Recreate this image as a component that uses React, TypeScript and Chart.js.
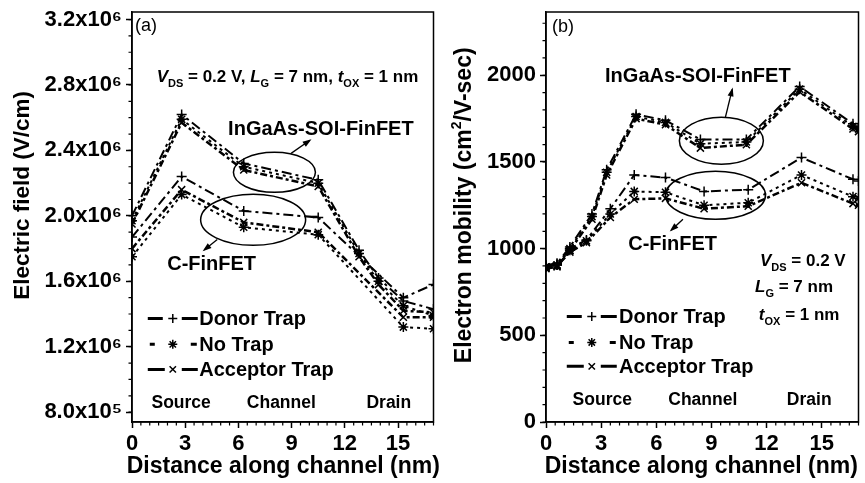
import React, { useEffect, useRef } from "react";
import { Chart, registerables } from "chart.js";

Chart.register(...registerables);

const FONT = "Arial, 'Liberation Sans', Helvetica, sans-serif";

// ---------------- Panel (a): electric field (V/cm) ----------------
const distA_InGaAs = [0, 2.8, 6.3, 10.5, 12.8, 13.9, 15.3, 17];
const fieldA_InGaAs_Donor = [2.0e6, 2.62e6, 2.32e6, 2.22e6, 1.79e6, 1.62e6, 1.48e6, 1.43e6];
const fieldA_InGaAs_NoTrap = [1.97e6, 2.59e6, 2.3e6, 2.2e6, 1.77e6, 1.6e6, 1.45e6, 1.39e6];
const fieldA_InGaAs_Acceptor = [1.95e6, 2.57e6, 2.28e6, 2.18e6, 1.75e6, 1.58e6, 1.42e6, 1.41e6];
const distA_CFin = [0, 2.8, 6.3, 10.5, 15.3, 17];
const fieldA_CFin_Donor = [1.87e6, 2.24e6, 2.03e6, 1.99e6, 1.5e6, 1.58e6];
const fieldA_CFin_NoTrap = [1.75e6, 2.13e6, 1.93e6, 1.885e6, 1.32e6, 1.31e6];
const fieldA_CFin_Acceptor = [1.8e6, 2.16e6, 1.96e6, 1.9e6, 1.38e6, 1.38e6];

// ---------------- Panel (b): electron mobility (cm2/V-sec) ----------------
const distB_InGaAs = [0, 0.6, 1.3, 2.5, 3.3, 4.9, 6.5, 8.4, 10.9, 13.8, 16.7, 17];
const mobB_InGaAs_Donor = [905, 915, 1010, 1200, 1455, 1775, 1740, 1630, 1630, 1935, 1720, 1700];
const mobB_InGaAs_NoTrap = [895, 905, 1000, 1185, 1440, 1762, 1728, 1605, 1615, 1920, 1705, 1690];
const mobB_InGaAs_Acceptor = [885, 895, 990, 1170, 1425, 1750, 1715, 1580, 1600, 1905, 1690, 1675];
const distB_CFin = [0, 0.6, 1.3, 2.2, 3.5, 4.8, 6.5, 8.6, 11.0, 13.9, 16.7, 17];
const mobB_CFin_Donor = [900, 910, 1000, 1050, 1230, 1425, 1410, 1330, 1340, 1525, 1400, 1390];
const mobB_CFin_NoTrap = [895, 905, 990, 1045, 1200, 1330, 1325, 1250, 1265, 1425, 1300, 1290];
const mobB_CFin_Acceptor = [890, 900, 980, 1035, 1180, 1285, 1290, 1230, 1245, 1380, 1260, 1250];

// ---------------- Ticks / labels ----------------
const xTicks = [0, 3, 6, 9, 12, 15];
const yTicksA = [8e5, 1.2e6, 1.6e6, 2.0e6, 2.4e6, 2.8e6, 3.2e6];
const yTicksB = [0, 500, 1000, 1500, 2000];
const trapNames = ["Donor Trap", "No Trap", "Acceptor Trap"];
const regionNames = ["Source", "Channel", "Drain"];
const xTitle = "Distance along channel (nm)";

const trapStyles = [
  { dash: [10, 4, 3, 4], point: "cross", width: 2 },
  { dash: [3, 4], point: "star", width: 2 },
  { dash: [7, 3, 3, 3], point: "crossRot", width: 2.5 },
];

const SUP: Record<string, string> = {
  "0": "⁰", "1": "¹", "2": "²", "3": "³", "4": "⁴",
  "5": "⁵", "6": "⁶", "7": "⁷", "8": "⁸", "9": "⁹", "-": "⁻",
};
function sciLabel(v: number): string {
  const e = Math.floor(Math.log10(v) + 1e-9);
  const m = v / Math.pow(10, e);
  return m.toFixed(1) + "x10" + String(e).split("").map((c) => SUP[c]).join("");
}

type Seg = { t: string; sub?: boolean; sup?: boolean; it?: boolean };
type TextAnn = { x: number; y: number; parts: Seg[]; size: number; align: "left" | "center"; weight: string; base: "middle" | "alphabetic" };
type EllAnn = { x: number; y: number; rx: number; ry: number };
type LineAnn = { x1: number; y1: number; x2: number; y2: number; head: boolean };
type Annot = {
  texts: TextAnn[];
  ellipses: EllAnn[];
  lines: LineAnn[];
  legend: { x: number; tx: number; ys: number[]; size: number };
  regionsY: number;
  regionsX: number[];
  yTitle: { parts: Seg[]; px: number; y: number; size: number };
  xTitle: { dx: number; py: number; size: number };
};

const paramsLine: Seg[] = [
  { t: "V", it: true }, { t: "DS", sub: true }, { t: " = 0.2 V, " },
  { t: "L", it: true }, { t: "G", sub: true }, { t: " = 7 nm, " },
  { t: "t", it: true }, { t: "OX", sub: true }, { t: " = 1 nm" },
];

const annotA: Annot = {
  texts: [
    { x: 0.17, y: 3.159e6, parts: [{ t: "(a)" }], size: 18, align: "left", weight: "normal", base: "middle" },
    { x: 1.39, y: 2.8165e6, parts: paramsLine, size: 17, align: "left", weight: "bold", base: "alphabetic" },
    { x: 10.65, y: 2.529e6, parts: [{ t: "InGaAs-SOI-FinFET" }], size: 20, align: "center", weight: "bold", base: "middle" },
    { x: 4.49, y: 1.7034e6, parts: [{ t: "C-FinFET" }], size: 20, align: "center", weight: "bold", base: "middle" },
  ],
  ellipses: [
    { x: 8.03, y: 2.266e6, rx: 41, ry: 20 },
    { x: 6.83, y: 1.976e6, rx: 52.5, ry: 25.5 },
  ],
  lines: [
    { x1: 8.97, y1: 2.382e6, x2: 10.03, y2: 2.462e6, head: true },
    { x1: 4.81, y1: 1.856e6, x2: 4.07, y2: 1.791e6, head: true },
    { x1: 9.75, y1: 1.997e6, x2: 10.48, y2: 1.997e6, head: false },
  ],
  legend: { x: 0.89, tx: 3.79, ys: [1.373e6, 1.2145e6, 1.0615e6], size: 20 },
  regionsY: 0.8533e6,
  regionsX: [2.77, 8.42, 14.48],
  yTitle: { parts: [{ t: "Electric field (V/cm)" }], px: 23, y: 2.1254e6, size: 22.5 },
  xTitle: { dx: 0.5, py: 467, size: 23 },
};

const annotB: Annot = {
  texts: [
    { x: 0.32, y: 2277, parts: [{ t: "(b)" }], size: 18, align: "left", weight: "normal", base: "middle" },
    { x: 8.26, y: 1994, parts: [{ t: "InGaAs-SOI-FinFET" }], size: 20, align: "center", weight: "bold", base: "middle" },
    { x: 6.89, y: 1025, parts: [{ t: "C-FinFET" }], size: 20, align: "center", weight: "bold", base: "middle" },
    { x: 11.64, y: 897, parts: [{ t: "V", it: true }, { t: "DS", sub: true }, { t: " = 0.2 V" }], size: 17, align: "left", weight: "bold", base: "alphabetic" },
    { x: 11.37, y: 748, parts: [{ t: "L", it: true }, { t: "G", sub: true }, { t: " = 7 nm" }], size: 17, align: "left", weight: "bold", base: "alphabetic" },
    { x: 11.58, y: 586, parts: [{ t: "t", it: true }, { t: "OX", sub: true }, { t: " = 1 nm" }], size: 17, align: "left", weight: "bold", base: "alphabetic" },
  ],
  ellipses: [
    { x: 9.54, y: 1622, rx: 42, ry: 23.5 },
    { x: 9.22, y: 1308, rx: 50, ry: 24 },
  ],
  lines: [
    { x1: 9.76, y1: 1758, x2: 10.13, y2: 1919, head: true },
    { x1: 7.45, y1: 1169, x2: 6.81, y2: 1106, head: true },
  ],
  legend: { x: 1.13, tx: 3.97, ys: [609, 459, 321], size: 20 },
  regionsY: 125,
  regionsX: [3.06, 8.53, 14.32],
  yTitle: {
    parts: [{ t: "Electron mobility (cm" }, { t: "2", sup: true }, { t: "/V-sec)" }],
    px: 25,
    y: 1250,
    size: 23,
  },
  xTitle: { dx: -1, py: 467, size: 23 },
};

function drawMarker(ctx: CanvasRenderingContext2D, kind: string, x: number, y: number, r: number) {
  ctx.beginPath();
  if (kind === "cross" || kind === "star") {
    ctx.moveTo(x - r, y); ctx.lineTo(x + r, y);
    ctx.moveTo(x, y - r); ctx.lineTo(x, y + r);
  }
  if (kind === "crossRot" || kind === "star") {
    const d = r * 0.707;
    ctx.moveTo(x - d, y - d); ctx.lineTo(x + d, y + d);
    ctx.moveTo(x + d, y - d); ctx.lineTo(x - d, y + d);
  }
  ctx.stroke();
}

function drawRich(ctx: CanvasRenderingContext2D, a: TextAnn, px: number, py: number) {
  const fontFor = (s: Seg) => {
    const fs = s.sub || s.sup ? Math.round(a.size * 0.62) : a.size;
    return `${s.it ? "italic " : ""}${a.weight} ${fs}px ${FONT}`;
  };
  let w = 0;
  for (const s of a.parts) { ctx.font = fontFor(s); w += ctx.measureText(s.t).width; }
  let cx = a.align === "center" ? px - w / 2 : px;
  ctx.textAlign = "left";
  ctx.textBaseline = a.base;
  for (const s of a.parts) {
    ctx.font = fontFor(s);
    const dy = s.sub ? a.size * 0.28 : s.sup ? -a.size * 0.36 : 0;
    ctx.fillText(s.t, cx, py + dy);
    cx += ctx.measureText(s.t).width;
  }
}

function makePlugin(annot: Annot, minorX: number, minorY: number) {
  return {
    id: "paperDecor",
    afterDraw(chart: any) {
      const { ctx, chartArea: ca, scales } = chart;
      const xs = scales.x, ys = scales.y;
      const X = (v: number) => xs.getPixelForValue(v);
      const Y = (v: number) => ys.getPixelForValue(v);
      ctx.save();
      ctx.strokeStyle = "#000";
      ctx.fillStyle = "#000";
      // frame
      ctx.lineWidth = 1.5;
      ctx.strokeRect(ca.left, ca.top, ca.right - ca.left, ca.bottom - ca.top);
      // minor ticks
      ctx.lineWidth = 1.2;
      ctx.beginPath();
      for (let v = Math.ceil(xs.min / minorX) * minorX; v <= xs.max + 1e-9; v += minorX) {
        if (xTicks.some((t) => Math.abs(t - v) < 1e-9)) continue;
        const p = X(v);
        ctx.moveTo(p, ca.bottom); ctx.lineTo(p, ca.bottom + 3.5);
      }
      for (let v = Math.ceil(ys.min / minorY) * minorY; v <= ys.max + 1e-6; v += minorY) {
        const p = Y(v);
        ctx.moveTo(ca.left, p); ctx.lineTo(ca.left - 3.5, p);
      }
      ctx.stroke();
      // x-axis title
      const xt = annot.xTitle;
      drawRich(ctx, { x: 0, y: 0, parts: [{ t: xTitle }], size: xt.size, align: "center", weight: "bold", base: "middle" }, (ca.left + ca.right) / 2 + xt.dx, xt.py);
      // y-axis title (rotated)
      const yt = annot.yTitle;
      ctx.save();
      ctx.translate(yt.px, Y(yt.y));
      ctx.rotate(-Math.PI / 2);
      drawRich(ctx, { x: 0, y: 0, parts: yt.parts, size: yt.size, align: "center", weight: "bold", base: "middle" }, 0, 0);
      ctx.restore();
      // ellipses
      ctx.lineWidth = 1.5;
      for (const e of annot.ellipses) {
        ctx.beginPath();
        ctx.ellipse(X(e.x), Y(e.y), e.rx, e.ry, 0, 0, Math.PI * 2);
        ctx.stroke();
      }
      // connector lines / arrows
      for (const l of annot.lines) {
        const x1 = X(l.x1), y1 = Y(l.y1), x2 = X(l.x2), y2 = Y(l.y2);
        ctx.lineWidth = 1.3;
        ctx.beginPath(); ctx.moveTo(x1, y1); ctx.lineTo(x2, y2); ctx.stroke();
        if (l.head) {
          const ang = Math.atan2(y2 - y1, x2 - x1);
          const hl = 7, hw = 3;
          ctx.beginPath();
          ctx.moveTo(x2 + Math.cos(ang) * 2, y2 + Math.sin(ang) * 2);
          ctx.lineTo(x2 - Math.cos(ang) * hl + Math.sin(ang) * hw, y2 - Math.sin(ang) * hl - Math.cos(ang) * hw);
          ctx.lineTo(x2 - Math.cos(ang) * hl - Math.sin(ang) * hw, y2 - Math.sin(ang) * hl + Math.cos(ang) * hw);
          ctx.closePath(); ctx.fill();
        }
      }
      // texts
      for (const t of annot.texts) drawRich(ctx, t, X(t.x), Y(t.y));
      // region labels
      ctx.font = `bold 17.5px ${FONT}`;
      ctx.textAlign = "center";
      ctx.textBaseline = "middle";
      regionNames.forEach((n, i) => ctx.fillText(n, X(annot.regionsX[i]), Y(annot.regionsY)));
      // legend
      const lg = annot.legend;
      const x0 = X(lg.x);
      trapNames.forEach((name, i) => {
        const yy = Y(lg.ys[i]);
        const st = trapStyles[i];
        ctx.setLineDash([]);
        ctx.lineWidth = 3;
        ctx.beginPath();
        if (i === 1) {
          ctx.moveTo(x0 + 2, yy); ctx.lineTo(x0 + 7, yy);
          ctx.moveTo(x0 + 43, yy); ctx.lineTo(x0 + 49, yy);
        } else {
          ctx.moveTo(x0, yy); ctx.lineTo(x0 + (i === 2 ? 17 : 15), yy);
          ctx.moveTo(x0 + 34, yy); ctx.lineTo(x0 + 50, yy);
        }
        ctx.stroke();
        ctx.lineWidth = 1.5;
        drawMarker(ctx, st.point, x0 + 25, yy, 4.5);
        ctx.font = `bold ${lg.size}px ${FONT}`;
        ctx.textAlign = "left";
        ctx.textBaseline = "middle";
        ctx.fillText(name, X(lg.tx), yy + 1);
      });
      ctx.restore();
    },
  };
}

type PanelSpec = {
  width: number;
  yWidth: number;
  padRight: number;
  yMin: number;
  yMax: number;
  yTicks: number[];
  yLabel: (v: number) => string;
  minorY: number;
  series: { xs: number[]; ys: number[]; trap: number; name: string }[];
  annot: Annot;
};

const panelA: PanelSpec = {
  width: 440,
  yWidth: 132,
  padRight: 3,
  yMin: 7.4e5,
  yMax: 3.246e6,
  yTicks: yTicksA,
  yLabel: sciLabel,
  minorY: 1e5,
  series: [
    { xs: distA_InGaAs, ys: fieldA_InGaAs_Donor, trap: 0, name: "InGaAs-SOI-FinFET Donor Trap" },
    { xs: distA_InGaAs, ys: fieldA_InGaAs_NoTrap, trap: 1, name: "InGaAs-SOI-FinFET No Trap" },
    { xs: distA_InGaAs, ys: fieldA_InGaAs_Acceptor, trap: 2, name: "InGaAs-SOI-FinFET Acceptor Trap" },
    { xs: distA_CFin, ys: fieldA_CFin_Donor, trap: 0, name: "C-FinFET Donor Trap" },
    { xs: distA_CFin, ys: fieldA_CFin_NoTrap, trap: 1, name: "C-FinFET No Trap" },
    { xs: distA_CFin, ys: fieldA_CFin_Acceptor, trap: 2, name: "C-FinFET Acceptor Trap" },
  ],
  annot: annotA,
};

const panelB: PanelSpec = {
  width: 425,
  yWidth: 106,
  padRight: 2,
  yMin: 0,
  yMax: 2365,
  yTicks: yTicksB,
  yLabel: (v) => String(v),
  minorY: 100,
  series: [
    { xs: distB_InGaAs, ys: mobB_InGaAs_Donor, trap: 0, name: "InGaAs-SOI-FinFET Donor Trap" },
    { xs: distB_InGaAs, ys: mobB_InGaAs_NoTrap, trap: 1, name: "InGaAs-SOI-FinFET No Trap" },
    { xs: distB_InGaAs, ys: mobB_InGaAs_Acceptor, trap: 2, name: "InGaAs-SOI-FinFET Acceptor Trap" },
    { xs: distB_CFin, ys: mobB_CFin_Donor, trap: 0, name: "C-FinFET Donor Trap" },
    { xs: distB_CFin, ys: mobB_CFin_NoTrap, trap: 1, name: "C-FinFET No Trap" },
    { xs: distB_CFin, ys: mobB_CFin_Acceptor, trap: 2, name: "C-FinFET Acceptor Trap" },
  ],
  annot: annotB,
};

function buildConfig(p: PanelSpec): any {
  const datasets = p.series.map((s) => {
    const st = trapStyles[s.trap];
    return {
      label: s.name,
      data: s.xs.map((x, i) => ({ x, y: s.ys[i] })),
      borderColor: "#000",
      backgroundColor: "#000",
      borderWidth: st.width,
      borderDash: st.dash,
      pointStyle: st.point,
      pointRadius: 5,
      pointBorderWidth: 1.5,
      pointBorderColor: "#000",
      fill: false,
      tension: 0,
    };
  });
  const tickFont = { size: 22, weight: "bold", family: FONT };
  const zeroPad = (s: any) => {
    s.paddingTop = 0; s.paddingBottom = 0; s.paddingLeft = 0; s.paddingRight = 0;
  };
  return {
    type: "line",
    data: { datasets },
    options: {
      responsive: false,
      animation: false,
      devicePixelRatio: 1,
      layout: { padding: { top: 12, right: p.padRight, left: 0, bottom: 0 } },
      plugins: { legend: { display: false }, tooltip: { enabled: false } },
      scales: {
        x: {
          type: "linear",
          min: 0,
          max: 17,
          afterBuildTicks: (s: any) => { s.ticks = xTicks.map((v) => ({ value: v })); },
          afterFit: (s: any) => { s.height = 61; zeroPad(s); },
          ticks: { font: tickFont, color: "#000", padding: 3, maxRotation: 0, autoSkip: false, callback: (v: any) => String(v) },
          grid: { display: true, drawOnChartArea: false, drawTicks: true, tickLength: 6, tickWidth: 1.5, color: "#000", tickColor: "#000" },
          border: { display: true, color: "#000", width: 1.5 },
          title: { display: false },
        },
        y: {
          type: "linear",
          min: p.yMin,
          max: p.yMax,
          afterBuildTicks: (s: any) => { s.ticks = p.yTicks.map((v) => ({ value: v })); },
          afterFit: (s: any) => { s.width = p.yWidth; zeroPad(s); },
          ticks: { font: tickFont, color: "#000", padding: 4, autoSkip: false, callback: (v: any) => p.yLabel(Number(v)) },
          grid: { display: true, drawOnChartArea: false, drawTicks: true, tickLength: 6, tickWidth: 1.5, color: "#000", tickColor: "#000" },
          border: { display: true, color: "#000", width: 1.5 },
          title: { display: false },
        },
      },
    },
    plugins: [makePlugin(p.annot, 0.5, p.minorY)],
  };
}

function ChartPanel({ spec, left }: { spec: PanelSpec; left: number }) {
  const ref = useRef<HTMLCanvasElement>(null);
  useEffect(() => {
    const chart = new Chart(ref.current as HTMLCanvasElement, buildConfig(spec));
    return () => chart.destroy();
  }, [spec]);
  return (
    <div style={{ position: "absolute", left, top: 0, width: spec.width, height: 483 }}>
      <canvas ref={ref} width={spec.width} height={483} style={{ display: "block" }} />
    </div>
  );
}

export default function App() {
  return (
    <div style={{ position: "fixed", left: 0, top: 0, width: 865, height: 483, background: "#fff", overflow: "hidden" }}>
      <ChartPanel spec={panelA} left={0} />
      <ChartPanel spec={panelB} left={440} />
    </div>
  );
}
